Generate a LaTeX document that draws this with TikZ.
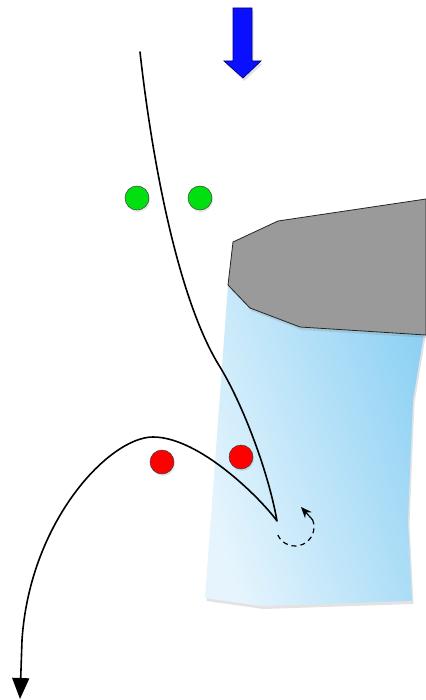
\documentclass[tikz,border=0pt]{standalone}
\usetikzlibrary{arrows.meta,shadows}
\definecolor{dotgreen}{HTML}{00E010}
\definecolor{dotred}{HTML}{FF0000}
\definecolor{arrowblue}{HTML}{0A10FF}
\definecolor{arrowline}{HTML}{00007A}
\definecolor{toolgray}{HTML}{9A9A9A}
\definecolor{chiplight}{HTML}{E6F5FD}
\definecolor{chipmid}{HTML}{B9E3F9}
\definecolor{chipdark}{HTML}{8ED1F4}
\begin{document}
\begin{tikzpicture}[x=1pt,y=-1pt,
  softshadow/.style={drop shadow={opacity=0.22, shadow xshift=1.5pt, shadow yshift=-3pt}},
  dot/.style={circle, draw=black!75, line width=0.5pt, minimum size=24pt, inner sep=0pt,
              drop shadow={opacity=0.2, shadow xshift=1pt, shadow yshift=-2pt}},
  track/.style={line width=1.6pt, line join=round, line cap=round, draw=black}]
\useasboundingbox[fill=white] (0,0) rectangle (425,700);

% chip (blue)
\path[left color=chiplight, middle color=chipmid, right color=chipdark, shading angle=108, softshadow]
  (228,285) -- (240,260) -- (425,260) -- (424,334) -- (413,400) -- (410,470)
  -- (408,522) -- (412,601) -- (262,606) -- (205,598) -- cycle;

% tool (gray)
\draw[fill=toolgray, draw=black!85, line width=0.8pt, softshadow]
  (233,242) -- (278,221) -- (426,199) -- (426,335) -- (300,327) -- (250,308) -- (228,285) -- cycle;

% dots
\node[dot, fill=dotgreen] (g1) at (137,198) {};
\node[dot, fill=dotgreen] (g2) at (200,198) {};
\node[dot, fill=dotred] (r1) at (162,462) {};
\node[dot, fill=dotred] (r2) at (241,457) {};

% trajectory
\coordinate (t0) at (140,52);
\coordinate (t1) at (220,367);
\coordinate (cusp) at (277,521);
\coordinate (hump) at (153,437);
\coordinate (t4) at (22,640);
\coordinate (tend) at (20,699);
\draw[track, -{Triangle[length=21pt,width=17pt]}]
  (t0) .. controls (152,160) and (178,300) .. (t1)
       .. controls (242,403) and (268,470) .. (cusp)
       .. controls (262,500) and (200,437) .. (hump)
       .. controls (110,437) and (30,520) .. (t4) -- (tend);

% rotation arrow (dashed)
\coordinate (rc) at (295,527);
\draw[line width=1.2pt, dash pattern=on 5pt off 4pt]
  (rc) ++(155:19) arc[start angle=155, end angle=-22, radius=19] coordinate (rEnd);
\coordinate (rTip) at (301,507);
\draw[line width=1.2pt, -{Stealth[length=11pt,width=9pt]}] (rEnd) -- (rTip);

% feed arrow (blue)
\draw[fill=arrowblue, draw=arrowline, line width=0.7pt, softshadow]
  (233,8) -- (252,8) -- (252,61) -- (261,61) -- (243,78) -- (224,61) -- (233,61) -- cycle;
\end{tikzpicture}
\end{document}
